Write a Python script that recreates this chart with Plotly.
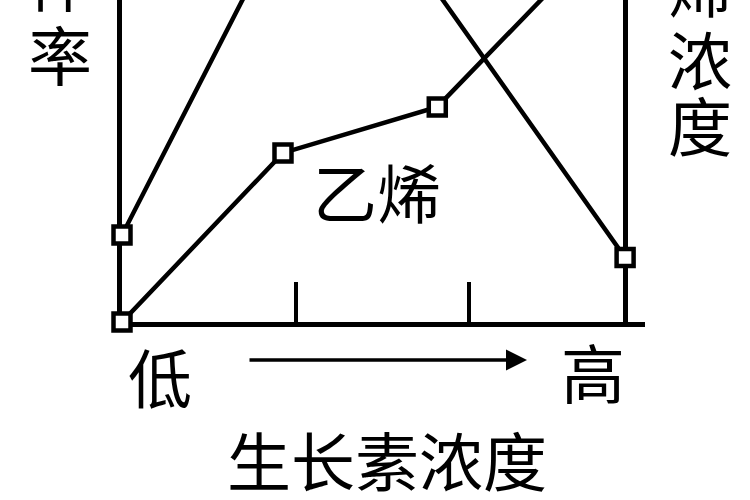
import plotly.graph_objects as go

# 横轴：生长素浓度（相对单位），纵轴 0-10（相对单位）
conc_ticks = [1.04, 2.07]

# 伸长率（左轴），峰值在图片上方被裁掉
rate_x = [0, 1.22, 3.0]
rate_y = [2.7, 15.1, 2.0]

# 乙烯浓度（右轴）
eth_x = [0, 0.96, 1.88, 3.0]
eth_y = [0, 5.25, 6.68, 12.7]

FONT = "Noto Sans CJK SC"
L, R, T, B = 122, 105, 0, 178
W, H = 750, 500
PW, PH = W - L - R, H - T - B


def pp(px, py):
    # 像素位置 -> paper 坐标
    return (px - L) / PW, (H - B - py) / PH


fig = go.Figure()

marker = dict(symbol="square", size=17, color="white", line=dict(color="black", width=4.5))

fig.add_trace(go.Scatter(x=rate_x, y=rate_y, mode="lines+markers",
                         line=dict(color="black", width=4.5), marker=marker,
                         cliponaxis=False, hoverinfo="skip"))
fig.add_trace(go.Scatter(x=eth_x, y=eth_y, mode="lines+markers", yaxis="y2",
                         line=dict(color="black", width=4.5), marker=marker,
                         cliponaxis=False, hoverinfo="skip"))

ann = []


def txt(s, px, py, size=64):
    x, y = pp(px, py)
    ann.append(dict(text=s, x=x, y=y, xref="paper", yref="paper", showarrow=False,
                    xanchor="center", yanchor="middle",
                    font=dict(family=FONT, size=size, color="black")))


# 左轴标题（竖排，上部被裁掉）
txt("伸", 60, -22)
txt("率", 60, 52)
# 右轴标题
txt("烯", 700, -16)
txt("浓", 700, 57)
txt("度", 700, 123)
# 曲线标注
txt("乙烯", 377, 190)
# 横轴
txt("低", 160, 375)
txt("高", 593, 370)
txt("生长素浓度", 387, 458)

hx, hy = pp(527, 360)
ann.append(dict(x=hx, y=hy, xref="paper", yref="paper", text="", showarrow=True,
                ax=-279, ay=0, arrowhead=2, arrowsize=1.2, arrowwidth=3.5, arrowcolor="black"))

fig.update_layout(
    width=W, height=H, margin=dict(l=L, r=R, t=T, b=B, pad=0),
    paper_bgcolor="white", plot_bgcolor="white", showlegend=False,
    annotations=ann,
    xaxis=dict(range=[0, PW / 167.7], showgrid=False, zeroline=False, showline=True,
               linecolor="black", linewidth=5, ticks="inside", ticklen=40, tickwidth=4,
               tickcolor="black", tickvals=conc_ticks, showticklabels=False,
               layer="below traces", fixedrange=True),
    yaxis=dict(range=[0, 10], showgrid=False, zeroline=False, showline=True,
               linecolor="black", linewidth=5, ticks="", showticklabels=False,
               layer="below traces", fixedrange=True),
    yaxis2=dict(range=[0, 10], overlaying="y", anchor="free", position=(625 - L) / PW,
                showgrid=False, zeroline=False, showline=True, linecolor="black",
                linewidth=5, ticks="", showticklabels=False, layer="below traces",
                fixedrange=True),
)

# 去掉页面默认的 8px 边距，隐藏工具栏
fig.write_html("out.html", config={"displayModeBar": False},
               post_script="document.body.style.margin='0';")
